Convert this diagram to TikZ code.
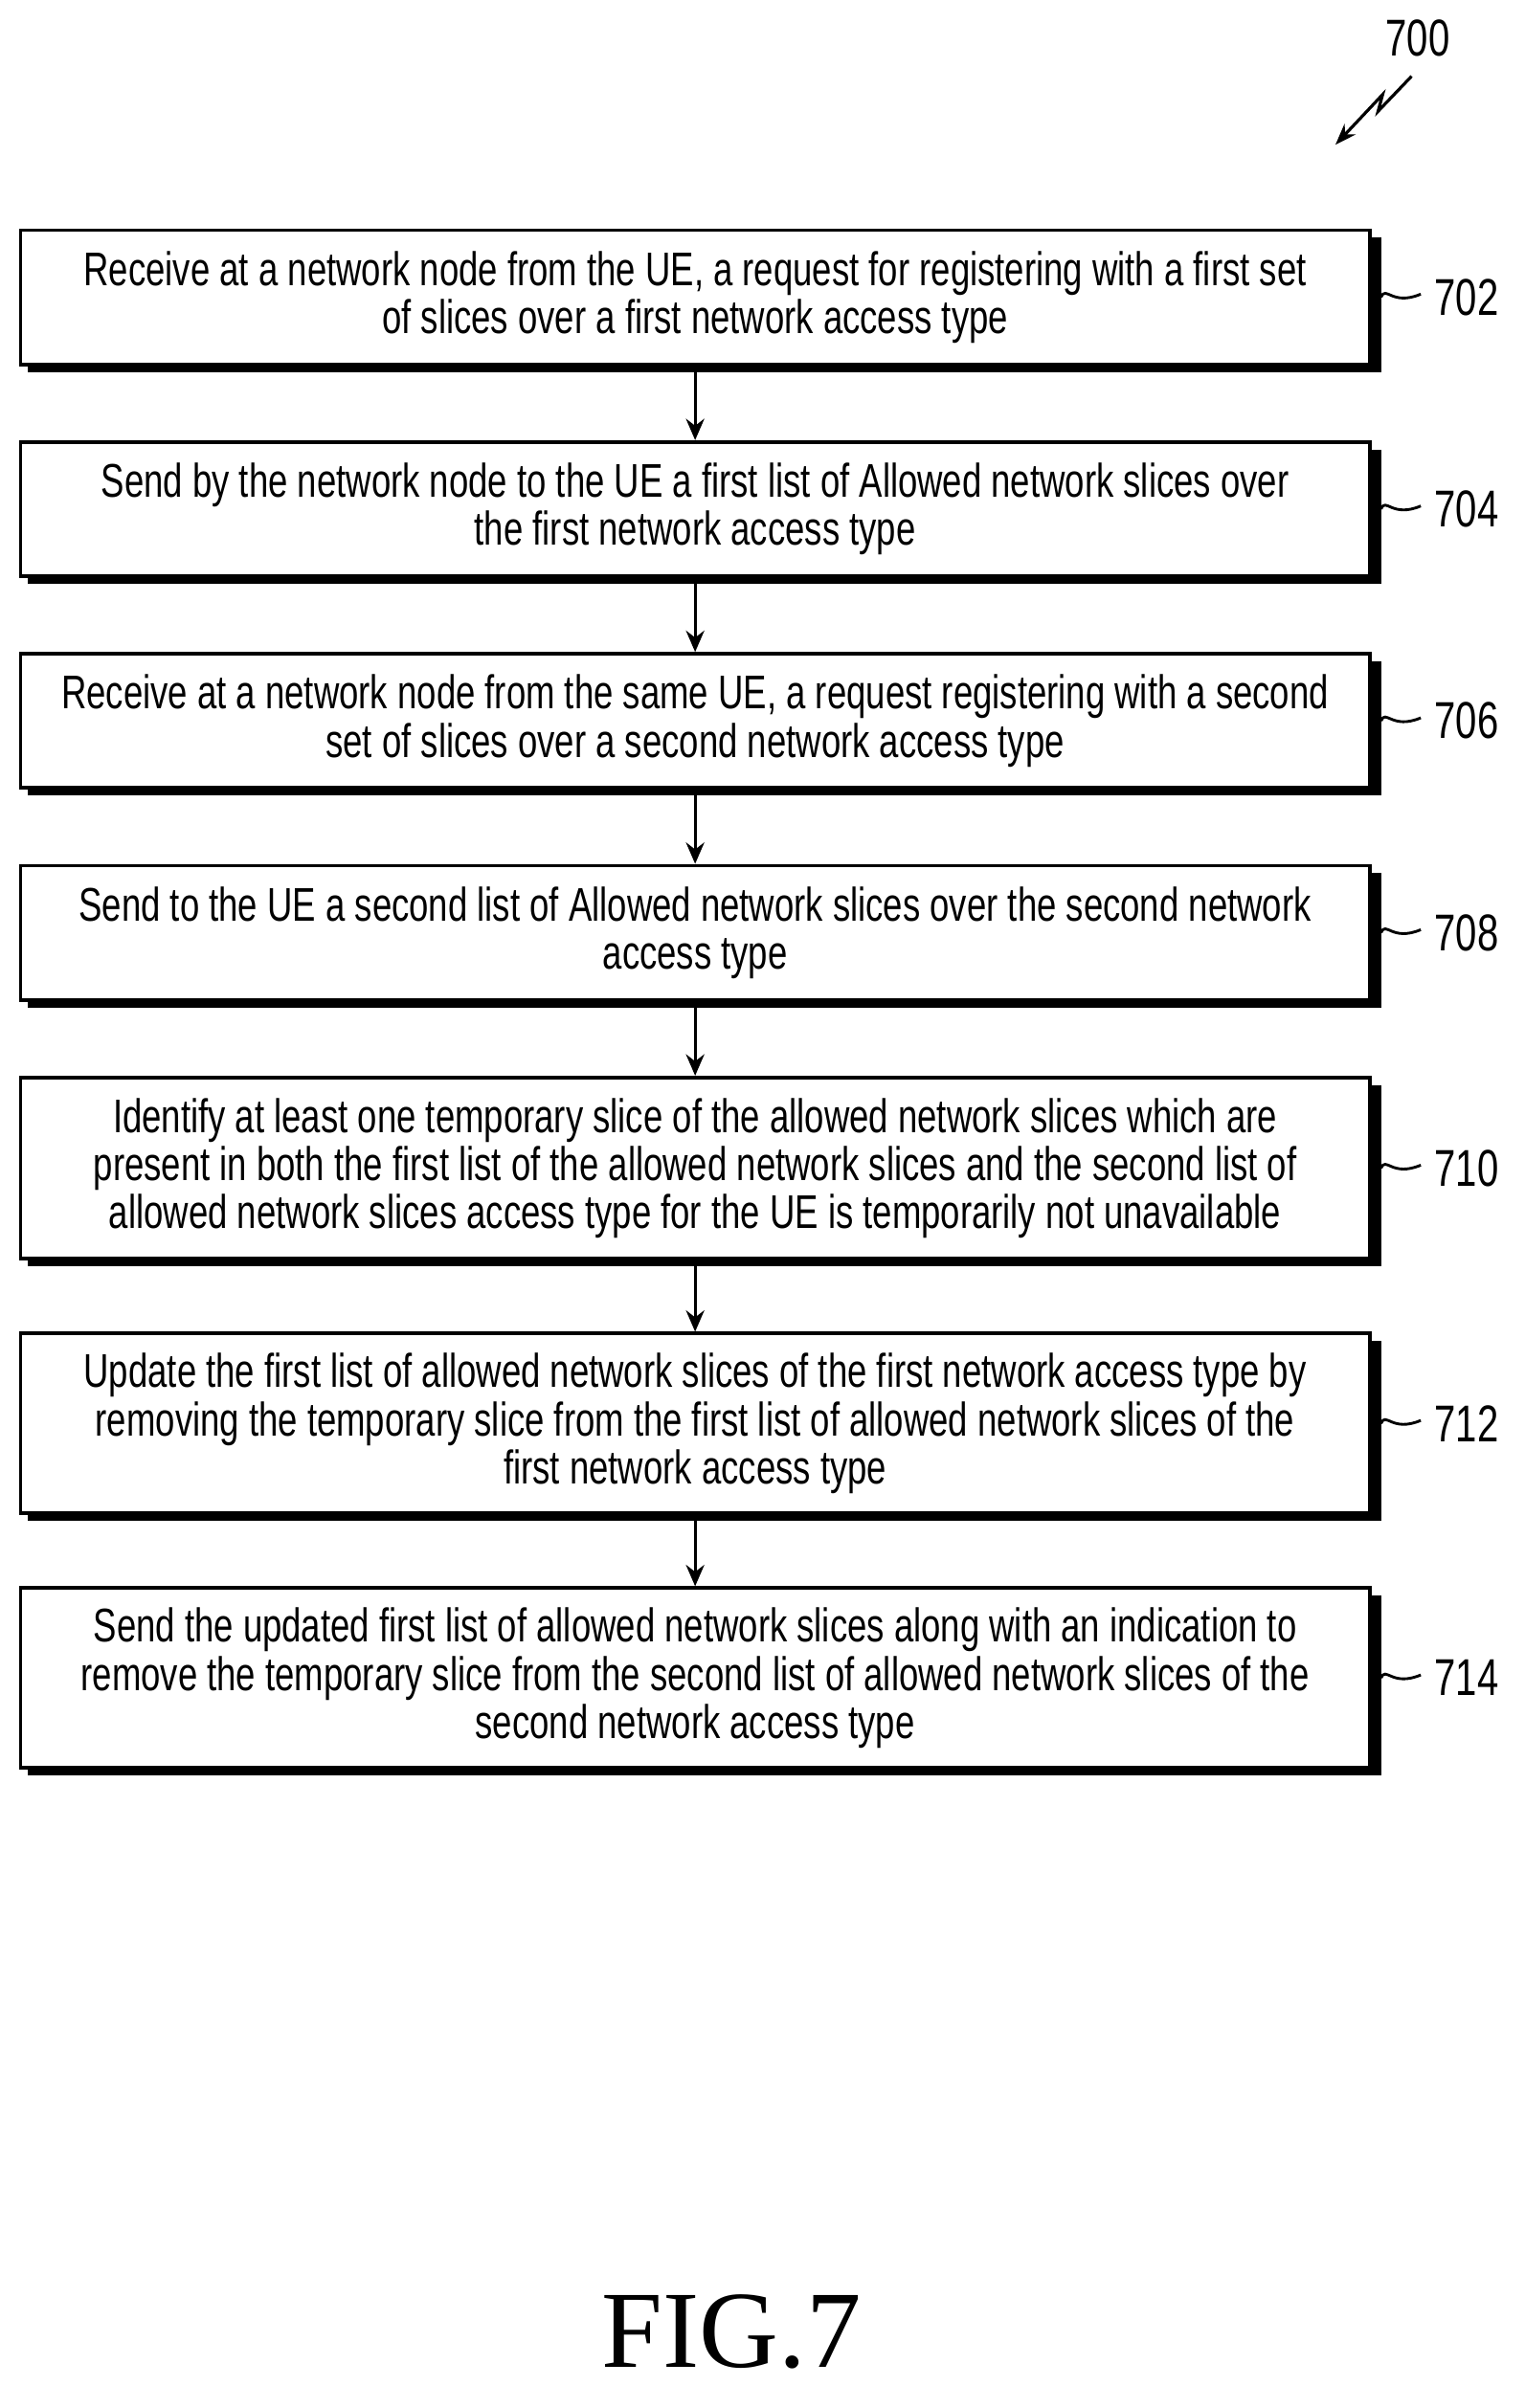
\documentclass[tikz,border=0pt]{standalone}
\usepackage{fontspec}
\setmainfont{Liberation Sans}[FakeStretch=0.74]
\newfontfamily\figfont{Liberation Serif}
\usetikzlibrary{arrows.meta}
\begin{document}
\begin{tikzpicture}[x=0.5pt,y=-0.5pt,
 box/.style={draw,line width=1.2pt,fill=white,minimum width=442.5pt,align=center,inner sep=0pt,font=\fontsize{15.5}{15.8}\selectfont},
 lbl/.style={font=\fontsize{17}{18}\selectfont,anchor=west},
 arr/.style={-{Stealth[length=7pt,width=6pt]},line width=1pt}]
\useasboundingbox (0,0) rectangle (1000,1580);
\newcommand{\stepbox}[5]{% name, top, bottom, text, label
 \fill (18,#2+5) rectangle (906,#3+5);
 \node[box,minimum height=#3*0.5pt-#2*0.5pt] (#1) at (456,{(#2+#3)/2}) {#4};
 \draw[line width=0.9pt] (906,{(#2+#3)/2}) .. controls (909,{(#2+#3)/2-8}) and (913,{(#2+#3)/2+6}) .. (932,{(#2+#3)/2-2});
 \node[lbl] (l#1) at (934,{(#2+#3)/2}) {#5};}
\stepbox{b702}{151}{239}{Receive at a network node from the UE, a request for registering with a first set\\of slices over a first network access type}{702}
\stepbox{b704}{290}{378}{Send by the network node to the UE a first list of Allowed network slices over\\the first network access type}{704}
\stepbox{b706}{429}{517}{Receive at a network node from the same UE, a request registering with a second\\set of slices over a second network access type}{706}
\stepbox{b708}{568}{656}{Send to the UE a second list of Allowed network slices over the second network\\access type}{708}
\stepbox{b710}{707}{826}{Identify at least one temporary slice of the allowed network slices which are\\present in both the first list of the allowed network slices and the second list of\\allowed network slices access type for the UE is temporarily not unavailable}{710}
\stepbox{b712}{875}{993}{Update the first list of allowed network slices of the first network access type by\\removing the temporary slice from the first list of allowed network slices of the\\first network access type}{712}
\stepbox{b714}{1042}{1160}{Send the updated first list of allowed network slices along with an indication to\\remove the temporary slice from the second list of allowed network slices of the\\second network access type}{714}
\draw[arr] (b702.south) -- (b704.north);
\draw[arr] (b704.south) -- (b706.north);
\draw[arr] (b706.south) -- (b708.north);
\draw[arr] (b708.south) -- (b710.north);
\draw[arr] (b710.south) -- (b712.north);
\draw[arr] (b712.south) -- (b714.north);
\node[font=\fontsize{17}{18}\selectfont] (t700) at (930,25) {700};
\coordinate (z1) at (926,50);
\coordinate (z2) at (876,95);
\draw[line width=1pt,-{Stealth[length=7pt,width=5pt]}] (z1) -- (904,73) -- (907,62) -- (z2);
\node[font=\figfont\fontsize{36}{38}\selectfont] (fig) at (480,1530) {FIG.7};
\end{tikzpicture}
\end{document}
